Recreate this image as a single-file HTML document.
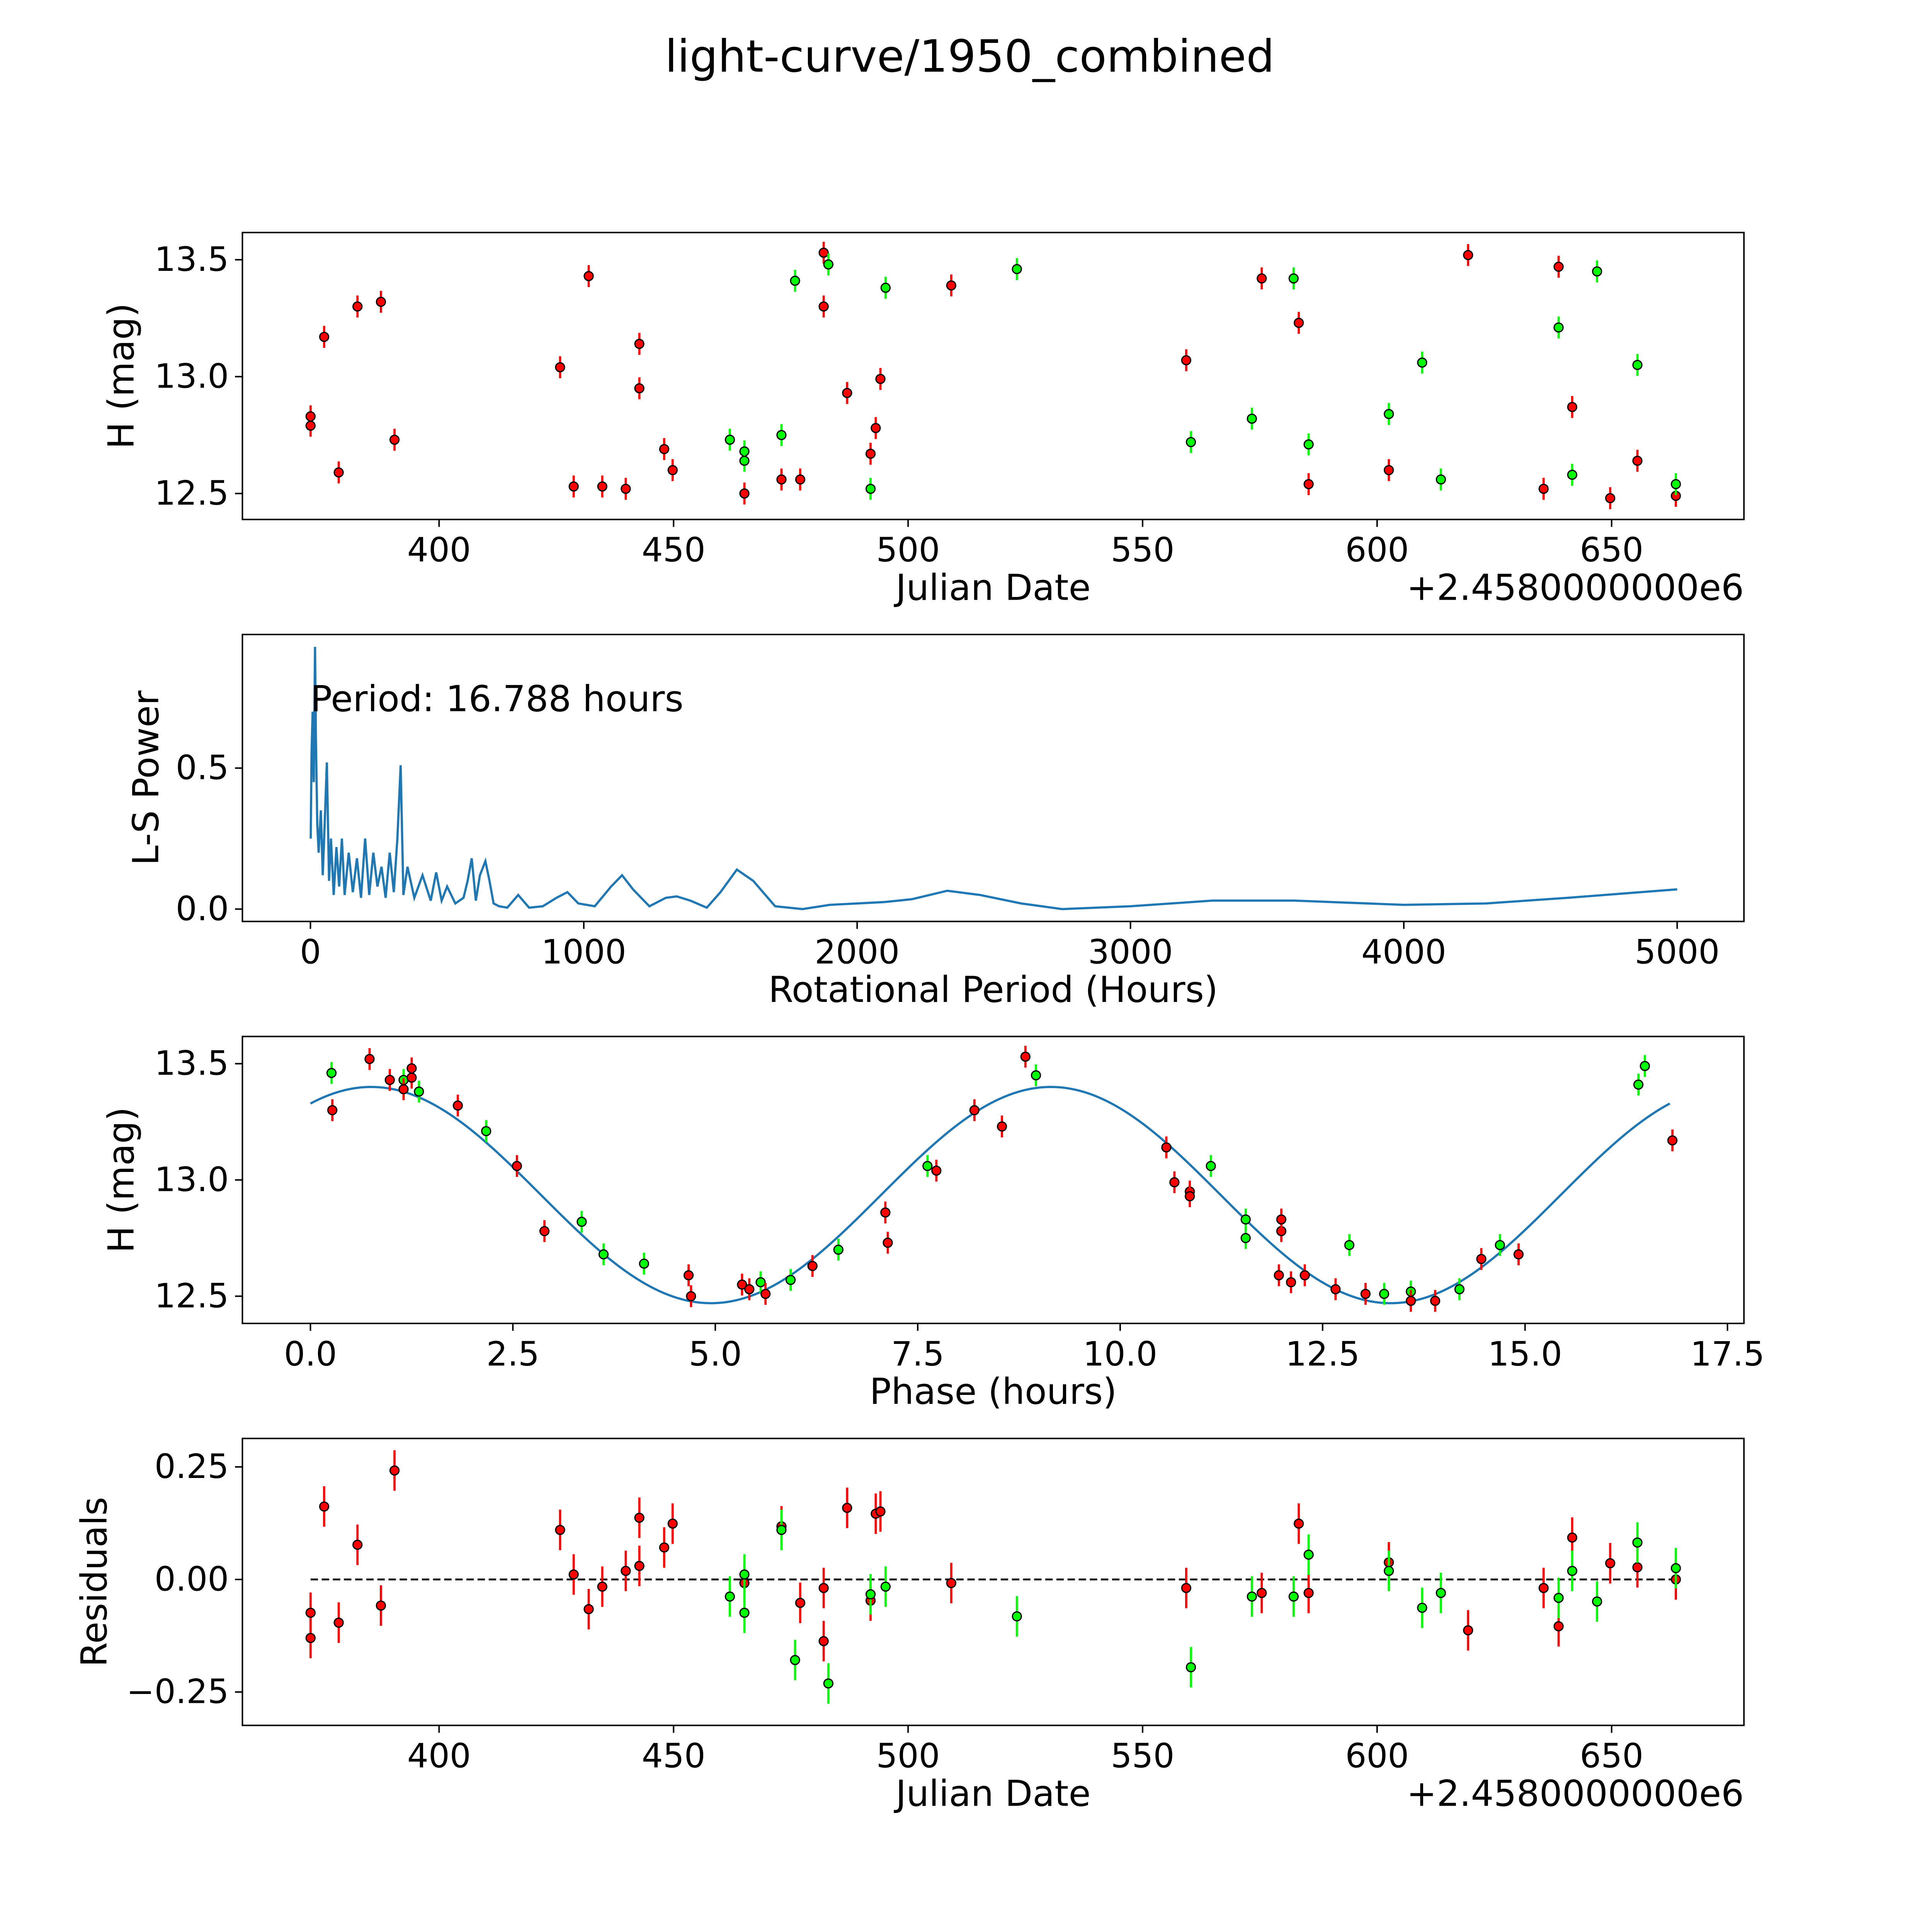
<!DOCTYPE html>
<html><head><meta charset="utf-8"><style>
html,body{margin:0;padding:0;background:#fff;overflow:hidden;width:5400px;height:5400px;}
svg{display:block;font-family:"DejaVu Sans","Liberation Sans",sans-serif;}
</style></head><body>
<svg id="fig" width="5400" height="5400" viewBox="0 0 1687 1687" xmlns="http://www.w3.org/2000/svg"></svg>
<script>
// ---- Panel 1: light curve (Julian Date offsets, H mag) ----
const redDates=[372.6,372.6,375.5,378.6,382.6,387.6,390.5,425.8,428.7,431.9,434.8,439.8,442.7,442.7,448.0,449.8,465.1,473.0,477.0,482.0,482.0,487.0,492.0,493.1,494.1,509.2,559.3,575.4,583.3,585.4,602.5,619.4,635.5,638.7,641.6,649.7,655.5,663.7];
const redMags=[12.83,12.79,13.17,12.59,13.30,13.32,12.73,13.04,12.53,13.43,12.53,12.52,13.14,12.95,12.69,12.60,12.50,12.56,12.56,13.53,13.30,12.93,12.67,12.78,12.99,13.39,13.07,13.42,13.23,12.54,12.60,13.52,12.52,13.47,12.87,12.48,12.64,12.49];
const greenDates=[462.0,465.1,465.1,473.0,475.9,483.0,492.0,495.2,523.2,560.3,573.3,582.2,585.4,602.5,609.6,613.6,638.7,641.6,646.9,655.5,663.7];
const greenMags=[12.73,12.68,12.64,12.75,13.41,13.48,12.52,13.38,13.46,12.72,12.82,13.42,12.71,12.84,13.06,12.56,13.21,12.58,13.45,13.05,12.54];
const magErr=0.047;
// ---- Panel 2: periodogram ----
const lsPeriods=[1,4,8,12,16.8,20,25,30,38,45,52,60,68,75,85,95,105,115,125,140,155,170,185,200,215,230,245,260,275,290,305,318,330,340,355,380,410,440,460,480,500,530,560,575,590,605,620,640,655,670,690,720,760,800,850,900,940,980,1040,1100,1140,1180,1240,1300,1340,1390,1450,1500,1560,1620,1700,1800,1900,2000,2100,2200,2330,2450,2600,2750,3000,3300,3600,4000,4300,4600,5000];
const lsPowers=[0.25,0.55,0.7,0.45,0.93,0.6,0.3,0.2,0.35,0.12,0.3,0.52,0.1,0.25,0.05,0.22,0.08,0.25,0.05,0.2,0.06,0.18,0.04,0.25,0.05,0.2,0.08,0.15,0.04,0.2,0.06,0.25,0.51,0.05,0.15,0.04,0.12,0.03,0.13,0.03,0.08,0.02,0.04,0.1,0.18,0.03,0.12,0.17,0.1,0.02,0.01,0.005,0.05,0.005,0.01,0.04,0.06,0.02,0.01,0.08,0.12,0.07,0.01,0.04,0.045,0.03,0.005,0.06,0.14,0.1,0.01,0.0,0.015,0.02,0.025,0.035,0.065,0.05,0.02,0.0,0.01,0.03,0.03,0.015,0.02,0.04,0.07];
// ---- Panel 3: phased ----
const greenPhase=[0.26,1.15,1.34,2.17,3.35,3.62,4.12,5.56,5.93,6.52,7.62,8.96,11.12,11.55,11.55,12.83,13.26,13.59,14.19,14.69,16.40,16.48];
const greenPhaseMag=[13.46,13.43,13.38,13.21,12.82,12.68,12.64,12.56,12.57,12.70,13.06,13.45,13.06,12.83,12.75,12.72,12.51,12.52,12.53,12.72,13.41,13.49];
const redPhase=[0.27,0.73,0.98,1.15,1.25,1.25,1.82,2.55,2.89,4.67,4.70,5.33,5.42,5.62,6.20,7.10,7.13,7.73,8.20,8.54,8.83,10.57,10.67,10.86,10.86,11.99,11.99,11.96,12.11,12.28,12.66,13.03,13.59,13.89,14.46,14.92,16.82];
const redPhaseMag=[13.30,13.52,13.43,13.39,13.48,13.44,13.32,13.06,12.78,12.59,12.50,12.55,12.53,12.51,12.63,12.86,12.73,13.04,13.30,13.23,13.53,13.14,12.99,12.95,12.93,12.78,12.83,12.59,12.56,12.59,12.53,12.51,12.48,12.48,12.66,12.68,13.17];
const modelMean=[12.935], modelAmp=[0.465], modelPeak=[0.75], modelPeriod=[8.394], foldPeriod=[16.788];
// ---- Panel 4: residuals ----
const redResid=[-0.074,-0.13,0.162,-0.096,0.077,-0.058,0.242,0.11,0.011,-0.066,-0.016,0.019,0.137,0.03,0.071,0.124,-0.008,0.118,-0.052,-0.019,-0.137,0.159,-0.047,0.146,0.151,-0.008,-0.019,-0.03,0.124,-0.03,0.038,-0.113,-0.019,-0.104,0.093,0.036,0.027,0];
const greenResid=[-0.038,-0.074,0.011,0.11,-0.179,-0.231,-0.033,-0.016,-0.082,-0.195,-0.038,-0.038,0.055,0.019,-0.063,-0.03,-0.041,0.019,-0.049,0.082,0.025];
const residErr=0.045;
const dateTicks=[400,450,500,550,600,650];
const periodTicks=[0,1000,2000,3000,4000,5000];
const phaseTicks=[0,2.5,5,7.5,10,12.5,15,17.5];
const phaseTickLabels=["0.0","2.5","5.0","7.5","10.0","12.5","15.0","17.5"];

const NS="http://www.w3.org/2000/svg";
const fig=document.getElementById('fig');
function el(tag,attrs,parent){const e=document.createElementNS(NS,tag);for(const k in attrs)e.setAttribute(k,attrs[k]);(parent||fig).appendChild(e);return e;}
function lin(d0,d1,p0,p1){return v=>p0+(v-d0)*(p1-p0)/(d1-d0);}
function text(x,y,s,size,anchor,parent,name,rot){const t=el('text',{x:x,y:y,'font-size':size,'text-anchor':anchor||'middle',fill:'#000'},parent);if(rot)t.setAttribute('transform','rotate(-90 '+x+' '+y+')');t.textContent=s;

return t;}
function frame(g,x0,y0,x1,y1,name){const r=el('rect',{x:x0,y:y0,width:x1-x0,height:y1-y0,fill:'none',stroke:'#000','stroke-width':1.2},g);

}
function xticks(g,vals,labels,sx,yb,name){vals.forEach((v,i)=>{const x=sx(v);const l=el('line',{x1:x,x2:x,y1:yb,y2:yb+6,stroke:'#000','stroke-width':1.2},g);


text(x,yb+34,labels[i],27,'middle',g,name+'-tick-label');});}
function yticks(g,vals,labels,sy,xl,name){vals.forEach((v,i)=>{const y=sy(v);const l=el('line',{x1:xl-6,x2:xl,y1:y,y2:y,stroke:'#000','stroke-width':1.2},g);


text(xl-11,y+9,labels[i],27,'end',g,name+'-tick-label');});}
function points(g,xs,ys,err,sx,sy,col,name){xs.forEach((xv,i)=>{const x=sx(xv),y=sy(ys[i]);const eb=el('line',{x1:x,x2:x,y1:sy(ys[i]-err),y2:sy(ys[i]+err),stroke:col,'stroke-width':1.8},g);


const c=el('circle',{cx:x,cy:y,r:3.6,fill:col,stroke:'#000','stroke-width':1},g);

});}
const RED='#ff0000',GREEN='#00ff00';

const title=text(784,58,'light-curve/1950_combined',36,'middle',fig,'figure-title');

// Panel 1
const g1=el('g',{});


const sx1=lin(400,650,355,1303), sy1=lin(12.5,13.5,399,210);
points(g1,redDates,redMags,magErr,sx1,sy1,RED,'red-point');
points(g1,greenDates,greenMags,magErr,sx1,sy1,GREEN,'green-point');
frame(g1,196,188,1410,420,'light-curve-frame');
xticks(g1,dateTicks,dateTicks.map(String),sx1,420,'date-x');
yticks(g1,[12.5,13,13.5],["12.5","13.0","13.5"],sy1,196,'mag-y');
text(803,485,'Julian Date',29,'middle',g1,'x-axis-title');
text(1410,485,'+2.4580000000e6',29,'end',g1,'x-axis-offset');
text(108,304,'H (mag)',29,'middle',g1,'y-axis-title',true);

// Panel 2
const g2=el('g',{});


const sx2=lin(0,5000,251,1356), sy2=lin(0,0.5,735,621);
const pth=el('polyline',{points:lsPeriods.map((p,i)=>sx2(p)+','+sy2(lsPowers[i])).join(' '),fill:'none',stroke:'#1f77b4','stroke-width':1.8},g2);


frame(g2,196,513,1410,745,'periodogram-frame');
xticks(g2,periodTicks,periodTicks.map(String),sx2,745,'period-x');
yticks(g2,[0,0.5],["0.0","0.5"],sy2,196,'power-y');
text(803,810,'Rotational Period (Hours)',29,'middle',g2,'x-axis-title');
text(128,629,'L-S Power',29,'middle',g2,'y-axis-title',true);
text(251,575,'Period: 16.788 hours',29,'start',g2,'period-annotation');

// Panel 3
const g3=el('g',{});


const sx3=lin(0,15,251,1233), sy3=lin(12.5,13.5,1048,860);
const mp=[];for(let i=0;i<=300;i++){const t=foldPeriod[0]*i/300;mp.push(sx3(t)+','+sy3(modelMean[0]+modelAmp[0]*Math.cos(2*Math.PI*(t-modelPeak[0])/modelPeriod[0])));}
const ml=el('polyline',{points:mp.join(' '),fill:'none',stroke:'#1f77b4','stroke-width':1.8},g3);


points(g3,greenPhase,greenPhaseMag,magErr,sx3,sy3,GREEN,'green-phased-point');
points(g3,redPhase,redPhaseMag,magErr,sx3,sy3,RED,'red-phased-point');
frame(g3,196,838,1410,1070,'phased-frame');
xticks(g3,phaseTicks,phaseTickLabels,sx3,1070,'phase-x');
yticks(g3,[12.5,13,13.5],["12.5","13.0","13.5"],sy3,196,'mag-y');
text(803,1135,'Phase (hours)',29,'middle',g3,'x-axis-title');
text(108,954,'H (mag)',29,'middle',g3,'y-axis-title',true);

// Panel 4
const g4=el('g',{});


const sy4=lin(0,0.25,1277,1186);
const zl=el('line',{x1:sx1(372.6),x2:sx1(663.7),y1:sy4(0),y2:sy4(0),stroke:'#000','stroke-width':1.5,'stroke-dasharray':'6,3'},g4);


points(g4,redDates,redResid,residErr,sx1,sy4,RED,'red-residual');
points(g4,greenDates,greenResid,residErr,sx1,sy4,GREEN,'green-residual');
frame(g4,196,1163,1410,1395,'residuals-frame');
xticks(g4,dateTicks,dateTicks.map(String),sx1,1395,'date-x');
yticks(g4,[0.25,0,-0.25],["0.25","0.00","\u22120.25"],sy4,196,'resid-y');
text(803,1460,'Julian Date',29,'middle',g4,'x-axis-title');
text(1410,1460,'+2.4580000000e6',29,'end',g4,'x-axis-offset');
text(86,1279,'Residuals',29,'middle',g4,'y-axis-title',true);
</script>
</body></html>
